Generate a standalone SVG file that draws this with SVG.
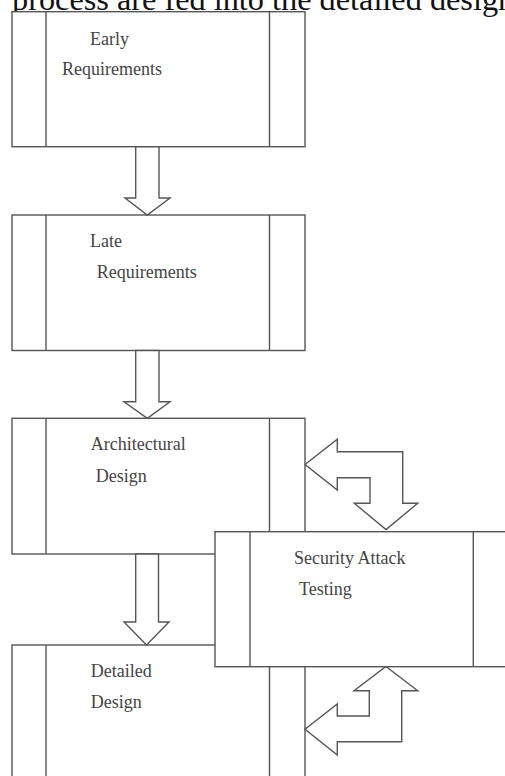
<svg xmlns="http://www.w3.org/2000/svg" width="505" height="776" viewBox="0 0 505 776">
<style>
.box{fill:#fff;stroke:#555;stroke-width:1.4}
.ln{stroke:#555;stroke-width:1.4;fill:none}
.arr{fill:#fff;stroke:#555;stroke-width:1.4;stroke-linejoin:miter}
.lbl{font-family:"Liberation Serif","Times New Roman",serif;font-size:18px;fill:#444}
.cap{font-family:"Liberation Serif","Times New Roman",serif;font-size:32.3px;fill:#111}
</style>
<rect width="505" height="776" fill="#fff"/>
<text class="cap" x="12" y="9.5">process are fed into the detailed design</text>
<g id="early-requirements">
<rect class="box" x="12" y="11.7" width="293" height="135"/>
<line class="ln" x1="46" y1="11.7" x2="46" y2="146.7"/>
<line class="ln" x1="269.5" y1="11.7" x2="269.5" y2="146.7"/>
<text class="lbl" x="90" y="45">Early</text>
<text class="lbl" x="62" y="75">Requirements</text>
</g>
<g id="late-requirements">
<rect class="box" x="12" y="215" width="293" height="135.5"/>
<line class="ln" x1="46" y1="215" x2="46" y2="350.5"/>
<line class="ln" x1="269.5" y1="215" x2="269.5" y2="350.5"/>
<text class="lbl" x="90" y="247.3">Late</text>
<text class="lbl" x="96.7" y="277.7">Requirements</text>
</g>
<g id="architectural-design">
<rect class="box" x="12" y="418.3" width="293" height="135.7"/>
<line class="ln" x1="46" y1="418.3" x2="46" y2="554"/>
<line class="ln" x1="269.5" y1="418.3" x2="269.5" y2="554"/>
<text class="lbl" x="90.7" y="450">Architectural</text>
<text class="lbl" x="95.7" y="481.7">Design</text>
</g>
<g id="detailed-design">
<rect class="box" x="12" y="645" width="293" height="150"/>
<line class="ln" x1="46" y1="645" x2="46" y2="795"/>
<line class="ln" x1="269.5" y1="645" x2="269.5" y2="795"/>
<text class="lbl" x="90.7" y="677.3">Detailed</text>
<text class="lbl" x="90.7" y="708.3">Design</text>
</g>
<g id="connectors">
<polygon class="arr" points="135.7,146.7 159,146.7 159,198 170,198 147.3,215 125,198 135.7,198"/>
<polygon class="arr" points="135.7,350.5 159,350.5 159,401.7 170,401.7 147.3,418.3 124,401.7 135.7,401.7"/>
<polygon class="arr" points="135.7,554 158.5,554 158.5,622 169,622 146.5,645 124,622 135.7,622"/>
<polygon class="arr" points="305,464.5 337.3,439.3 337.3,451.7 402.7,451.7 402.7,503.3 417.7,503.3 386,529.5 354.3,503.3 370,503.3 370,477.7 337.3,477.7 337.3,490"/>
<polygon class="arr" points="386,666.5 417.7,690.7 401.7,690.7 401.7,741.7 337.3,741.7 337.3,755 305,729.3 337.3,704 337.3,716 369.3,716 369.3,690.7 354,690.7"/>
</g>
<g id="security-attack-testing">
<rect class="box" x="215" y="531.7" width="300" height="135"/>
<line class="ln" x1="250" y1="531.7" x2="250" y2="666.7"/>
<line class="ln" x1="473.3" y1="531.7" x2="473.3" y2="666.7"/>
<text class="lbl" x="294" y="564">Security Attack</text>
<text class="lbl" x="299" y="595">Testing</text>
</g>
</svg>
